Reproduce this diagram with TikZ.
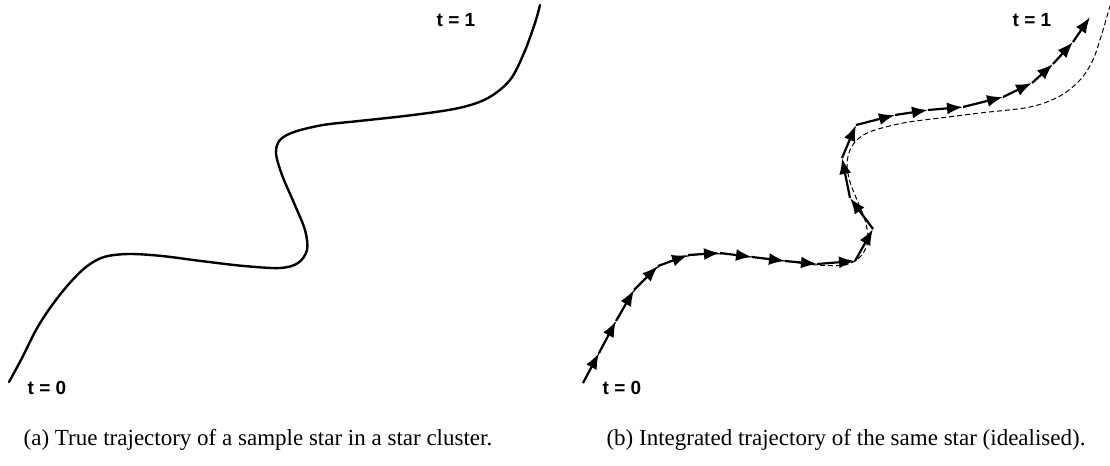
\documentclass[tikz,border=0pt]{standalone}
\usepackage{fontspec}
\setmainfont{Liberation Serif}
\setsansfont{Liberation Sans}
\usetikzlibrary{arrows.meta}

\tikzset{
  tlabel/.style={font=\sffamily\bfseries\fontsize{9.5}{11}\selectfont},
  caption/.style={font=\fontsize{11.5}{14}\selectfont},
  trajectory/.style={line width=1.2pt, line cap=round},
  stepline/.style={line width=1.1pt, -{Latex[length=8pt,width=6pt]}},
  ideal/.style={line width=0.5pt, dash pattern=on 2.5pt off 1.5pt},
}

\begin{document}
\begin{tikzpicture}[x=0.5pt, y=-0.5pt]
  \useasboundingbox (0,0) rectangle (1110,466);
  % (a) true trajectory
  \draw[trajectory] plot[smooth, tension=0.55] coordinates {
    (9,382) (22,358) (36,330) (50,308) (68,285) (86,267) (104,257)
    (129,254) (162,256) (201,261) (244,266) (280,268) (298,263)
    (307,250) (305,230) (294,203) (282,175) (276,153) (280,140)
    (294,132) (323,125) (359,121) (413,115) (459,108) (488,98)
    (510,80) (524,53) (535,23) (540,5)};
  \node[tlabel] (a0) at (47,388) {t = 0};
  \node[tlabel] (a1) at (456,20) {t = 1};
  % (b) idealised path
  \draw[ideal] plot[smooth, tension=0.55] coordinates {
    (583,383) (599,353) (616,321) (634,291) (658,267) (688,256)
    (720,254) (752,257) (785,261) (817,265) (845,265) (861,256)
    (868,240) (865,220) (857,200) (850,182) (847,165) (850,150)
    (858,139) (872,131) (903,123) (940,118) (980,113) (1030,107)
    (1060,96) (1080,80) (1092,62) (1100,40) (1110,6)};
  % integration steps
  \foreach \x/\y [count=\i from 0] in {583/383, 599/353, 616/321, 634/290,
      658/266, 688/255, 720/253, 752/257, 785/261, 817/264, 855/261,
      873/229, 850/198, 842/158, 856/125, 895/115, 928/110, 963/107,
      1003/97, 1032/83, 1053/64, 1073/42, 1090/17}
    \coordinate (s\i) at (\x,\y);
  \foreach \i [evaluate=\i as \j using int(\i+1)] in {0,...,21}
    \draw[stepline] (s\i) -- (s\j);
  \node[tlabel] (b0) at (622,388) {t = 0};
  \node[tlabel] (b1) at (1032,20) {t = 1};
  % captions
  \node[caption] (capa) at (258,440) {(a) True trajectory of a sample star in a star cluster.};
  \node[caption] (capb) at (846,440) {(b) Integrated trajectory of the same star (idealised).};
\end{tikzpicture}
\end{document}
